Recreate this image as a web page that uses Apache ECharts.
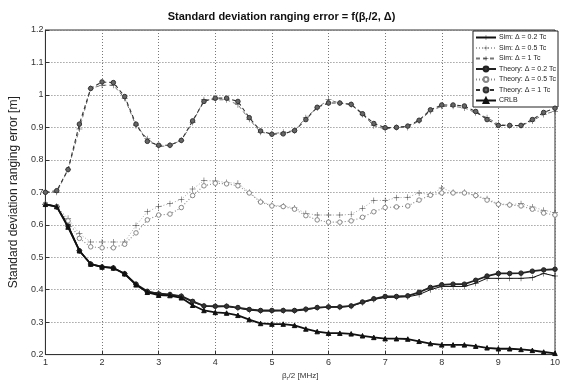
<!DOCTYPE html>
<html>
<head>
<meta charset="utf-8">
<script src="https://cdn.jsdelivr.net/npm/echarts@6/dist/echarts.min.js"></script>
<style>
  html, body { margin: 0; padding: 0; background: #fff; }
  #main { width: 563px; height: 386px; }
</style>
</head>
<body>
<div id="main"></div>
<script>
// beta_r/2 [MHz] sample points
var betaHalf = [1.0, 1.2, 1.4, 1.6, 1.8, 2.0, 2.2, 2.4, 2.6, 2.8,
  3.0, 3.2, 3.4, 3.6, 3.8, 4.0, 4.2, 4.4, 4.6, 4.8,
  5.0, 5.2, 5.4, 5.6, 5.8, 6.0, 6.2, 6.4, 6.6, 6.8,
  7.0, 7.2, 7.4, 7.6, 7.8, 8.0, 8.2, 8.4, 8.6, 8.8,
  9.0, 9.2, 9.4, 9.6, 9.8, 10.0];

var simD02 = [0.663, 0.656, 0.600, 0.520, 0.479, 0.470, 0.467, 0.449, 0.417, 0.393,
  0.390, 0.385, 0.380, 0.362, 0.350, 0.347, 0.349, 0.343, 0.337, 0.334,
  0.334, 0.335, 0.334, 0.338, 0.344, 0.346, 0.346, 0.349, 0.360, 0.370,
  0.376, 0.377, 0.378, 0.385, 0.400, 0.410, 0.410, 0.410, 0.420, 0.435,
  0.435, 0.435, 0.435, 0.437, 0.450, 0.442];

var simD05 = [0.663, 0.655, 0.620, 0.572, 0.547, 0.547, 0.547, 0.547, 0.598, 0.640,
  0.656, 0.665, 0.678, 0.710, 0.736, 0.735, 0.730, 0.728, 0.700, 0.672,
  0.660, 0.658, 0.652, 0.635, 0.630, 0.630, 0.630, 0.632, 0.651, 0.675,
  0.675, 0.683, 0.685, 0.698, 0.693, 0.713, 0.700, 0.700, 0.690, 0.680,
  0.665, 0.662, 0.665, 0.655, 0.645, 0.637];

var simD1 = [0.700, 0.700, 0.770, 0.895, 1.020, 1.030, 1.030, 0.990, 0.905, 0.865,
  0.840, 0.845, 0.860, 0.915, 0.985, 0.985, 0.985, 0.970, 0.925, 0.885,
  0.880, 0.885, 0.890, 0.930, 0.960, 0.985, 0.975, 0.970, 0.940, 0.905,
  0.895, 0.900, 0.900, 0.920, 0.950, 0.965, 0.965, 0.960, 0.945, 0.930,
  0.910, 0.905, 0.905, 0.920, 0.940, 0.950];

var theoryD02 = [0.663, 0.656, 0.596, 0.520, 0.479, 0.470, 0.467, 0.449, 0.417, 0.395,
  0.387, 0.385, 0.380, 0.364, 0.350, 0.349, 0.349, 0.345, 0.339, 0.336,
  0.336, 0.336, 0.336, 0.340, 0.345, 0.347, 0.347, 0.350, 0.362, 0.372,
  0.379, 0.379, 0.381, 0.392, 0.407, 0.415, 0.417, 0.417, 0.429, 0.442,
  0.450, 0.450, 0.451, 0.457, 0.461, 0.463];

var theoryD05 = [0.663, 0.656, 0.612, 0.558, 0.532, 0.529, 0.529, 0.540, 0.575, 0.615,
  0.630, 0.633, 0.653, 0.690, 0.720, 0.728, 0.726, 0.720, 0.698, 0.670,
  0.658, 0.656, 0.648, 0.628, 0.615, 0.608, 0.608, 0.612, 0.623, 0.640,
  0.653, 0.655, 0.658, 0.676, 0.691, 0.698, 0.698, 0.698, 0.690, 0.676,
  0.663, 0.661, 0.658, 0.648, 0.636, 0.630];

var theoryD1 = [0.700, 0.705, 0.770, 0.910, 1.020, 1.040, 1.038, 0.995, 0.910, 0.857,
  0.845, 0.845, 0.860, 0.920, 0.980, 0.990, 0.990, 0.980, 0.930, 0.889,
  0.879, 0.880, 0.890, 0.924, 0.962, 0.975, 0.975, 0.971, 0.942, 0.912,
  0.899, 0.900, 0.904, 0.922, 0.954, 0.969, 0.969, 0.966, 0.949, 0.924,
  0.906, 0.906, 0.906, 0.924, 0.946, 0.959];

var crlb = [0.663, 0.656, 0.593, 0.520, 0.479, 0.470, 0.467, 0.449, 0.415, 0.392,
  0.383, 0.382, 0.375, 0.352, 0.336, 0.330, 0.328, 0.321, 0.308, 0.296,
  0.294, 0.294, 0.290, 0.279, 0.271, 0.266, 0.266, 0.264, 0.258, 0.253,
  0.249, 0.249, 0.248, 0.241, 0.234, 0.230, 0.230, 0.230, 0.226, 0.221,
  0.218, 0.218, 0.216, 0.213, 0.208, 0.204];

var seriesNames = ['Sim: Δ = 0.2 Tc', 'Sim: Δ = 0.5 Tc', 'Sim: Δ = 1 Tc',
  'Theory: Δ = 0.2 Tc', 'Theory: Δ = 0.5 Tc', 'Theory: Δ = 1 Tc', 'CRLB'];

var plus = 'path://M4.6,0h0.8v4.6h4.6v0.8h-4.6v4.6h-0.8v-4.6h-4.6v-0.8h4.6z';
var font = '"Liberation Sans Narrow", "Liberation Sans", Arial, sans-serif';

function pairs(ys) {
  return betaHalf.map(function (x, i) { return [x, ys[i]]; });
}

function mkLine(name, ys, color, width, type, symbol, size, fill, z) {
  return {
    name: name,
    type: 'line',
    data: pairs(ys),
    symbol: symbol,
    symbolSize: size,
    showSymbol: true,
    z: z,
    lineStyle: { color: color, width: width, type: type },
    itemStyle: { color: fill, borderColor: color, borderWidth: symbol === plus ? 0 : 1 },
    emphasis: { disabled: true }
  };
}

var chart = echarts.init(document.getElementById('main'));

var option = {
  animation: false,
  backgroundColor: '#fff',
  textStyle: { fontFamily: font },
  title: {
    text: 'Standard deviation ranging error = f(β{sub|r}/2, Δ)',
    left: 'center',
    top: 4,
    textStyle: {
      fontFamily: font, fontSize: 11, fontWeight: 'bold', color: '#111',
      rich: { sub: { fontSize: 8, fontWeight: 'bold', padding: [7, 0, 0, 0], fontFamily: font } }
    }
  },
  legend: {
    orient: 'vertical',
    right: 5,
    top: 31,
    itemWidth: 20,
    itemHeight: 6,
    itemGap: 3.5,
    padding: [3, 2, 3, 2],
    backgroundColor: '#fff',
    borderColor: '#222',
    borderWidth: 1,
    textStyle: { fontSize: 7, color: '#222', fontFamily: font, padding: [0, 0, 0, -2] },
    data: seriesNames
  },
  grid: {
    left: 36, right: 4, top: 30, bottom: 24,
    show: true, borderColor: '#333', borderWidth: 1
  },
  xAxis: {
    type: 'value',
    min: 1, max: 10, interval: 1,
    name: '{a|β}{s|r}{a|/2 [MHz]}',
    nameLocation: 'middle',
    nameGap: 11,
    nameTextStyle: {
      rich: {
        a: { fontSize: 8, color: '#333', fontFamily: font },
        s: { fontSize: 6, color: '#333', fontFamily: font, padding: [5, 0, 0, 0] }
      }
    },
    axisLine: { lineStyle: { color: '#333' } },
    axisTick: { inside: true, length: 4, lineStyle: { color: '#333' } },
    axisLabel: { fontSize: 9, color: '#333', margin: 3, fontFamily: font },
    splitLine: { show: true, lineStyle: { color: '#777', type: [1, 2], width: 1 } }
  },
  yAxis: {
    type: 'value',
    min: 0.2, max: 1.2, interval: 0.1,
    name: 'Standard deviation ranging error [m]',
    nameLocation: 'middle',
    nameGap: 17,
    nameTextStyle: { fontSize: 12, color: '#222', fontFamily: font },
    axisLine: { show: true, lineStyle: { color: '#333' } },
    axisTick: { show: true, inside: true, length: 4, lineStyle: { color: '#333' } },
    axisLabel: {
      fontSize: 9, color: '#333', margin: 2, fontFamily: font,
      formatter: function (v) { return String(+v.toFixed(1)); }
    },
    splitLine: { show: true, lineStyle: { color: '#777', type: [1, 2], width: 1 } }
  },
  series: [
    mkLine(seriesNames[0], simD02, '#111', 1, 'solid', plus, 6, '#111', 3),
    mkLine(seriesNames[1], simD05, '#aaa', 1, [1, 2], plus, 6, '#333', 3),
    mkLine(seriesNames[2], simD1, '#777', 1, [4, 3], plus, 6, '#333', 3),
    mkLine(seriesNames[3], theoryD02, '#222', 1.8, 'solid', 'circle', 4.5, '#333', 4),
    mkLine(seriesNames[4], theoryD05, '#888', 1.1, [1, 2], 'circle', 4.5, '#fff', 4),
    mkLine(seriesNames[5], theoryD1, '#333', 1.1, [4, 3], 'circle', 4.5, '#666', 4),
    mkLine(seriesNames[6], crlb, '#111', 1.8, 'solid', 'triangle', 4.5, '#111', 5)
  ]
};

chart.setOption(option);
</script>
</body>
</html>
